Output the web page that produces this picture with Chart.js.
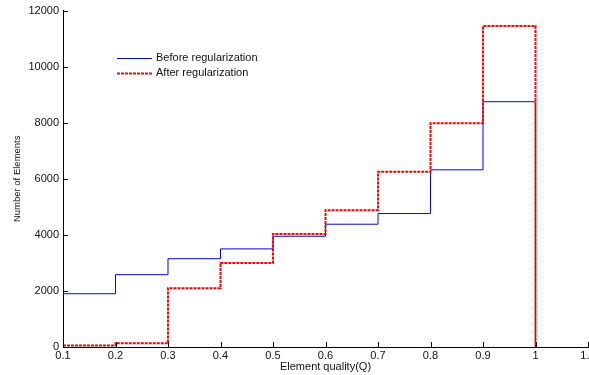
<!DOCTYPE html>
<html><head><meta charset="utf-8">
<script src="https://cdn.jsdelivr.net/npm/chart.js@4"></script>
<style>html,body{margin:0;padding:0;overflow:hidden;background:#fff;width:589px;height:375px}#wrap{width:600px;height:375px}</style>
</head><body><div id="wrap"><canvas id="c" width="600" height="375"></canvas></div>
<script>
const binEdges = [0.1, 0.2, 0.3, 0.4, 0.5, 0.6, 0.7, 0.8, 0.9, 1.0];
const beforeCounts = [1900, 2580, 3150, 3500, 3950, 4380, 4760, 6320, 8750];
const afterCounts = [50, 130, 2100, 3000, 4030, 4880, 6250, 7980, 11450];
const xTicks = [0.1, 0.2, 0.3, 0.4, 0.5, 0.6, 0.7, 0.8, 0.9, 1.0, 1.1];
const yTicks = [0, 2000, 4000, 6000, 8000, 10000, 12000];
const seriesNames = ['Before regularization', 'After regularization'];
const xTitle = 'Element quality(Q)';
const yTitle = 'Number of Elements';

function stairs(counts) {
  const pts = counts.map((c, i) => ({x: binEdges[i], y: c}));
  pts.push({x: binEdges[binEdges.length - 1], y: 0});
  return pts;
}
const FONT = 'Liberation Sans, Arial, sans-serif';
const TXT = '#111';

const innerTicks = {
  id: 'innerTicks',
  afterDatasetsDraw(chart) {
    const {ctx, scales: {x, y}, chartArea: a} = chart;
    ctx.save();
    ctx.strokeStyle = '#000';
    ctx.lineWidth = 1;
    xTicks.forEach(v => {
      const px = Math.round(x.getPixelForValue(v)) + 0.5;
      ctx.beginPath(); ctx.moveTo(px, a.bottom); ctx.lineTo(px, a.bottom - 5); ctx.stroke();
    });
    yTicks.forEach(v => {
      const py = Math.round(y.getPixelForValue(v)) + 0.5;
      ctx.beginPath(); ctx.moveTo(a.left, py); ctx.lineTo(a.left + 5, py); ctx.stroke();
    });
    ctx.restore();
  }
};

const innerLegend = {
  id: 'innerLegend',
  afterDraw(chart) {
    const ctx = chart.ctx;
    const entries = [
      {name: seriesNames[0], ds: chart.data.datasets[1], y: 58},
      {name: seriesNames[1], ds: chart.data.datasets[0], y: 73}
    ];
    ctx.save();
    entries.forEach(e => {
      ctx.strokeStyle = e.ds.borderColor;
      ctx.lineWidth = e.ds.borderWidth;
      ctx.setLineDash(e.ds.borderDash || []);
      ctx.beginPath(); ctx.moveTo(117, e.y + 0.5); ctx.lineTo(152, e.y + 0.5); ctx.stroke();
      ctx.setLineDash([]);
      ctx.fillStyle = TXT;
      ctx.font = '11px ' + FONT;
      ctx.textBaseline = 'middle';
      ctx.textAlign = 'left';
      ctx.fillText(e.name, 156, e.y);
    });
    ctx.restore();
  }
};

new Chart(document.getElementById('c'), {
  type: 'line',
  data: {
    datasets: [
      {label: seriesNames[1], data: stairs(afterCounts), stepped: 'before', borderColor: '#ff0000', borderWidth: 2, borderDash: [3, 1], pointRadius: 0, fill: false},
      {label: seriesNames[0], data: stairs(beforeCounts), stepped: 'before', borderColor: '#0000ff', borderWidth: 1, pointRadius: 0, fill: false}
    ]
  },
  options: {
    responsive: false,
    animation: false,
    devicePixelRatio: 1,
    layout: {padding: {top: 10, right: 12, bottom: 0, left: 0}},
    plugins: {legend: {display: false}, tooltip: {enabled: false}},
    scales: {
      x: {
        type: 'linear', min: 0.1, max: 1.1,
        afterBuildTicks: s => { s.ticks = xTicks.map(v => ({value: v})); },
        afterFit: s => { s.height = 28; },
        ticks: {autoSkip: false, maxRotation: 0, padding: 2, color: TXT, font: {family: FONT, size: 11},
          callback: v => String(+Number(v).toFixed(1))},
        grid: {display: false, drawTicks: false},
        border: {display: true, color: '#000', width: 1},
        title: {display: true, text: xTitle, color: TXT, font: {family: FONT, size: 11}, padding: {top: 0, bottom: 1}}
      },
      y: {
        min: 0, max: 12000,
        afterBuildTicks: s => { s.ticks = yTicks.map(v => ({value: v})); },
        afterFit: s => { s.width = 63; },
        ticks: {autoSkip: false, padding: 4, color: TXT, font: {family: FONT, size: 11}, callback: v => String(v)},
        grid: {display: false, drawTicks: false},
        border: {display: true, color: '#000', width: 1},
        title: {display: true, text: yTitle, color: TXT, font: {family: FONT, size: 9.5}, padding: {top: 12, bottom: 0}}
      }
    }
  },
  plugins: [innerTicks, innerLegend]
});
</script>
</body></html>
